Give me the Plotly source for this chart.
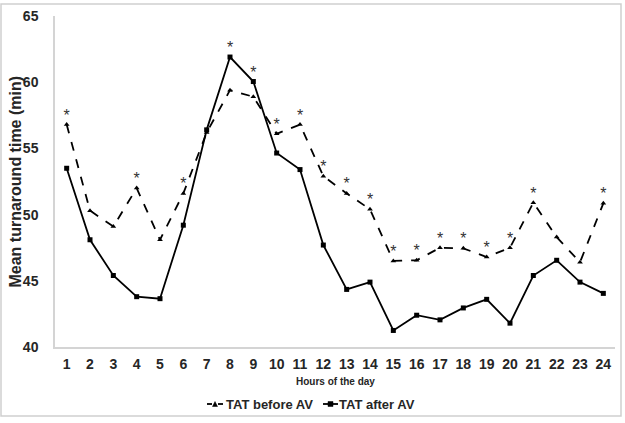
import plotly.graph_objects as go

hours = list(range(1, 25))
tat_before = [56.8, 50.3, 49.1, 52.0, 48.1, 51.6, 56.2, 59.4, 58.9, 56.1, 56.8, 52.9,
              51.6, 50.4, 46.5, 46.55, 47.5, 47.45, 46.8, 47.5, 50.9, 48.3, 46.4, 50.85]
tat_after = [53.5, 48.1, 45.4, 43.8, 43.65, 49.2, 56.4, 61.9, 60.05, 54.65, 53.4, 47.7,
             44.35, 44.9, 41.25, 42.4, 42.05, 42.95, 43.6, 41.8, 45.4, 46.55, 44.9, 44.05]
significant = [1, 4, 6, 8, 9, 10, 11, 12, 13, 14, 15, 16, 17, 18, 19, 20, 21, 24]
series_names = ["TAT before AV", "TAT after AV"]

FONT = "Arial, Liberation Sans, sans-serif"
TXT = "#262626"

W, H = 625, 423
ml, mr, mt, mb = 55, 10, 16, 76
pw, ph = W - ml - mr, H - mt - mb


def px_x(x):
    return (x - ml) / pw


def px_y(y):
    return (H - mb - y) / ph


fig = go.Figure()
fig.add_trace(go.Scatter(
    x=hours, y=tat_before, name=series_names[0], mode="lines+markers",
    line=dict(color="black", width=1.8, dash="dash"),
    marker=dict(symbol="triangle-up", size=5, color="black"),
))
fig.add_trace(go.Scatter(
    x=hours, y=tat_after, name=series_names[1], mode="lines+markers",
    line=dict(color="black", width=1.8),
    marker=dict(symbol="square", size=5, color="black"),
))

star_y = [max(tat_before[h - 1], tat_after[h - 1]) for h in significant]
fig.add_trace(go.Scatter(
    x=significant, y=star_y, mode="text", text=["*"] * len(significant),
    textposition="top center", showlegend=False, hoverinfo="skip",
    textfont=dict(family=FONT, size=16, color="#333333"),
))

# custom legend (short symbols like the original)
leg_y = px_y(404)
shapes = [
    dict(type="rect", xref="paper", yref="paper",
         x0=px_x(1), x1=px_x(621), y0=px_y(416), y1=px_y(4),
         line=dict(color="#cfcfcf", width=1.5), fillcolor="rgba(0,0,0,0)", layer="above"),
    # before AV symbol
    dict(type="line", xref="paper", yref="paper", x0=px_x(207), x1=px_x(212),
         y0=leg_y, y1=leg_y, line=dict(color="black", width=1.8)),
    dict(type="line", xref="paper", yref="paper", x0=px_x(218), x1=px_x(223),
         y0=leg_y, y1=leg_y, line=dict(color="black", width=1.8)),
    dict(type="path", xref="paper", yref="paper",
         path=f"M {px_x(212.5)} {px_y(406.5)} L {px_x(217.5)} {px_y(406.5)} L {px_x(215)} {px_y(401.5)} Z",
         fillcolor="black", line=dict(color="black", width=0.5)),
    # after AV symbol
    dict(type="line", xref="paper", yref="paper", x0=px_x(323), x1=px_x(338),
         y0=leg_y, y1=leg_y, line=dict(color="black", width=1.8)),
    dict(type="rect", xref="paper", yref="paper", x0=px_x(328), x1=px_x(333),
         y0=px_y(406.5), y1=px_y(401.5), fillcolor="black", line=dict(color="black", width=0.5)),
]

annotations = [
    dict(text="<b>Mean turnaround time (min)</b>", xref="paper", yref="paper",
         x=px_x(15), y=0.5, textangle=-90, showarrow=False,
         xanchor="center", yanchor="middle",
         font=dict(family=FONT, size=16, color=TXT)),
    dict(text="<b>Hours of the day</b>", xref="paper", yref="paper",
         x=0.5, y=px_y(382), showarrow=False, xanchor="center", yanchor="middle",
         font=dict(family=FONT, size=10, color=TXT)),
    dict(text=f"<b>{series_names[0]}</b>", xref="paper", yref="paper",
         x=px_x(224), y=leg_y, showarrow=False, xanchor="left", yanchor="middle",
         font=dict(family=FONT, size=13, color=TXT)),
    dict(text=f"<b>{series_names[1]}</b>", xref="paper", yref="paper",
         x=px_x(337), y=leg_y, showarrow=False, xanchor="left", yanchor="middle",
         font=dict(family=FONT, size=13, color=TXT)),
]

fig.update_layout(
    width=W, height=H,
    margin=dict(l=ml, r=mr, t=mt, b=mb),
    paper_bgcolor="white", plot_bgcolor="white",
    font=dict(family=FONT, color=TXT),
    showlegend=False,
    xaxis=dict(
        range=[0.5, 24.5], tickmode="array", tickvals=hours,
        ticktext=[str(h) for h in hours], automargin=False,
        showgrid=False, zeroline=False,
        showline=True, linecolor="#d4d4d4", linewidth=1.5,
        ticks="", ticklabelstandoff=3,
        tickfont=dict(family=FONT, size=14, color=TXT, weight="bold"),
    ),
    yaxis=dict(
        range=[40, 65], tickvals=[40, 45, 50, 55, 60, 65], automargin=False,
        showgrid=False, zeroline=False,
        showline=True, linecolor="#d4d4d4", linewidth=1.5,
        ticks="", ticklabelstandoff=12,
        tickfont=dict(family=FONT, size=14, color=TXT, weight="bold"),
    ),
    shapes=shapes,
    annotations=annotations,
)

fig.write_html("out.html")
